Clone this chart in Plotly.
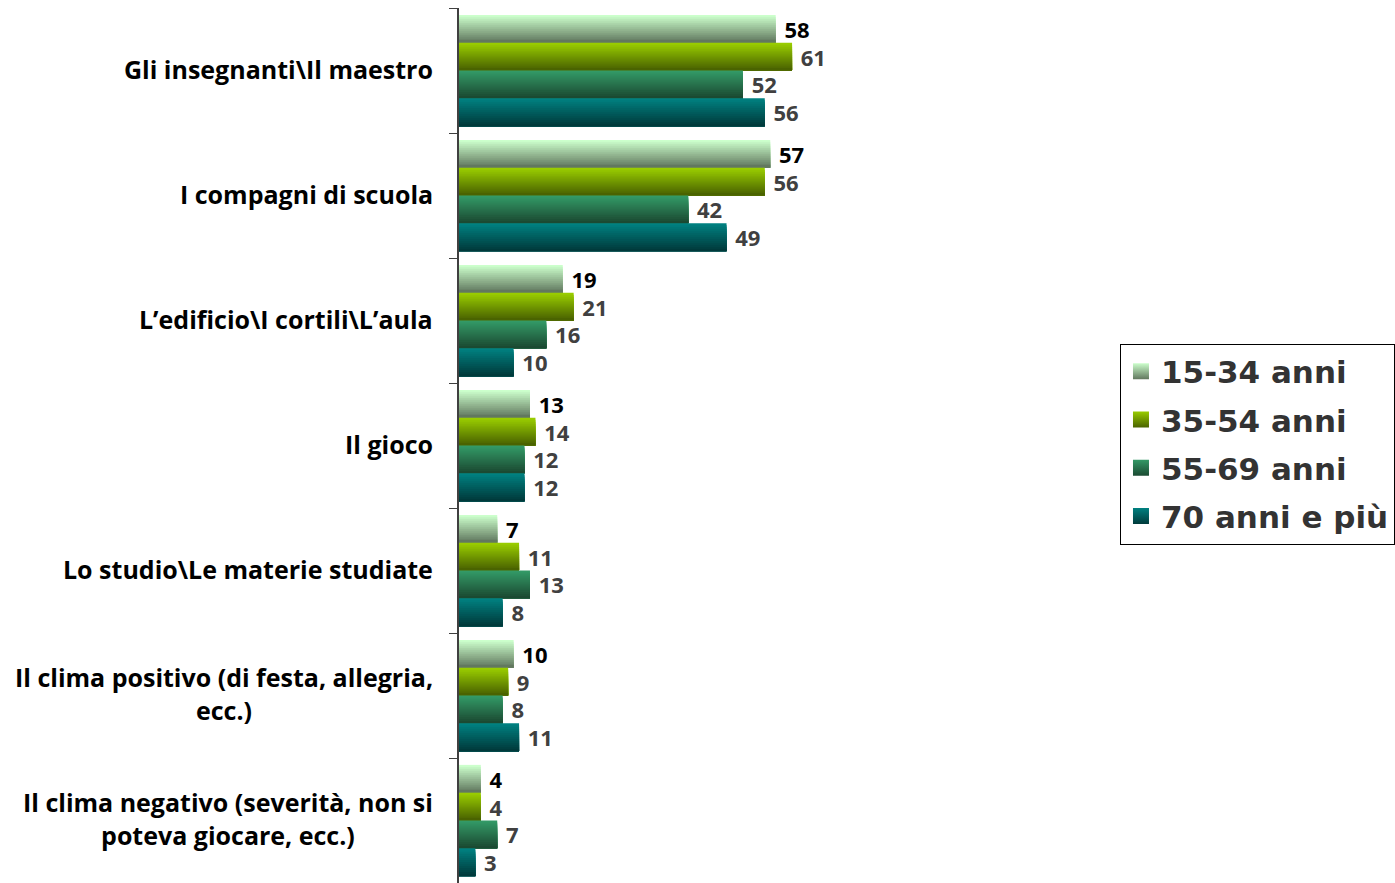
import plotly.graph_objects as go

categories = [
    "Gli insegnanti\\Il maestro",
    "I compagni di scuola",
    "L’edificio\\I cortili\\L’aula",
    "Il gioco",
    "Lo studio\\Le materie studiate",
    "Il clima positivo (di festa, allegria,<br>ecc.)",
    "Il clima negativo (severità, non si<br>poteva giocare, ecc.)",
]
series_names = ["15-34 anni", "35-54 anni", "55-69 anni", "70 anni e più"]
v_15_34 = [58, 57, 19, 13, 7, 10, 4]
v_35_54 = [61, 56, 21, 14, 11, 9, 4]
v_55_69 = [52, 42, 16, 12, 13, 8, 7]
v_70 = [56, 49, 10, 12, 8, 11, 3]
series_values = [v_15_34, v_35_54, v_55_69, v_70]

top_colors = ["#CCFFCC", "#99CC00", "#339966", "#008080"]
bot_colors = ["#62785F", "#4A6300", "#1B4A32", "#003A3B"]
text_colors = ["#000000", "#404040", "#404040", "#404040"]

def hex2rgb(h):
    h = h.lstrip("#")
    return tuple(int(h[i:i + 2], 16) for i in (0, 2, 4))

def mix(c1, c2, t):
    a, b = hex2rgb(c1), hex2rgb(c2)
    return "rgb(%d,%d,%d)" % tuple(round(a[i] + (b[i] - a[i]) * t) for i in range(3))

GROUP = 0.89
BW = GROUP / 4
NS = 14
SW = BW / NS

fig = go.Figure()
for i, (name, vals) in enumerate(zip(series_names, series_values)):
    base = -GROUP / 2 + i * BW
    for k in range(NS):
        col = mix(top_colors[i], bot_colors[i], k / (NS - 1))
        fig.add_trace(go.Bar(
            y=categories, x=vals, orientation="h",
            offset=base + k * SW, width=BW - k * SW,
            marker=dict(color=col, line=dict(width=0)),
            showlegend=False, hoverinfo="skip",
        ))

for i, (name, vals) in enumerate(zip(series_names, series_values)):
    base = -GROUP / 2 + i * BW
    fig.add_trace(go.Bar(
        y=categories, x=vals, orientation="h",
        offset=base, width=BW,
        marker=dict(color="rgba(0,0,0,0)", line=dict(width=0)),
        text=[str(v) for v in vals], texttemplate=" %{text}",
        textposition="outside", constraintext="none", cliponaxis=False,
        textfont=dict(family="Open Sans", size=22, color=text_colors[i], weight="bold"),
        showlegend=False, name=name,
    ))

for i, name in enumerate(series_names):
    fig.add_trace(go.Scatter(
        x=[None], y=[None], mode="markers", name=name, legendgroup=name,
        marker=dict(symbol="square", size=20, color=top_colors[i],
                    gradient=dict(type="vertical", color=bot_colors[i]),
                    line=dict(width=0)),
    ))

annotations = []
for c in categories:
    annotations.append(dict(
        x=0, xref="paper", y=c, yref="y", xanchor="right", yanchor="middle",
        xshift=-24, yshift=2, text=c, showarrow=False, align="center",
        font=dict(family="Open Sans", size=25, color="#000000", weight="bold"),
    ))

fig.update_layout(
    width=1395, height=883,
    margin=dict(l=459, r=390, t=8, b=0, autoexpand=False),
    paper_bgcolor="white", plot_bgcolor="white",
    barmode="overlay",
    showlegend=True,
    legend=dict(
        x=1.2106, xanchor="left", y=0.5017, yanchor="middle",
        font=dict(family="DejaVu Sans", size=31, color="#333333", weight="bold"),
        bordercolor="#000000", borderwidth=1, bgcolor="white",
        itemsizing="trace", traceorder="grouped", tracegroupgap=5,
    ),
    annotations=annotations,
    xaxis=dict(range=[0, 100], visible=False, showgrid=False, zeroline=False),
    yaxis=dict(
        type="category", categoryorder="array", categoryarray=categories,
        autorange="reversed", showticklabels=False, showgrid=False,
        showline=True, linecolor="#404040", linewidth=1.5,
        ticks="outside", tickson="boundaries", ticklen=8, tickcolor="#404040",
        zeroline=False,
    ),
)

fig.write_html("out.html")
